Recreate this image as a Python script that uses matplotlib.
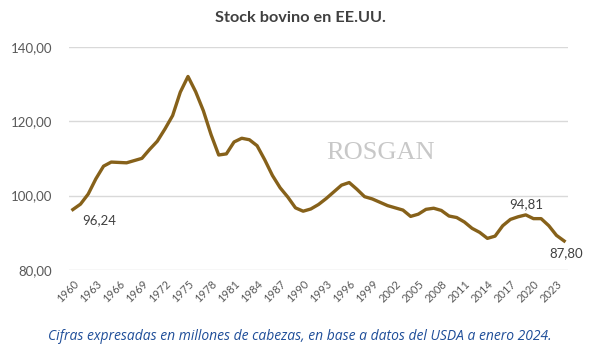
import matplotlib
matplotlib.use("Agg")
import matplotlib.pyplot as plt
import numpy as np

years = list(range(1960, 2025))
stock = [96.24, 97.7, 100.4, 104.5, 107.9, 109.0, 108.9, 108.8, 109.4, 110.0,
         112.4, 114.6, 117.9, 121.5, 127.8, 132.0, 127.9, 122.8, 116.4, 110.9,
         111.2, 114.4, 115.4, 115.0, 113.4, 109.6, 105.4, 102.1, 99.6, 96.7,
         95.8, 96.4, 97.6, 99.2, 101.0, 102.8, 103.5, 101.7, 99.7, 99.1,
         98.2, 97.3, 96.7, 96.1, 94.4, 95.0, 96.3, 96.6, 96.0, 94.5,
         94.1, 92.9, 91.2, 90.1, 88.5, 89.1, 91.9, 93.6, 94.3, 94.81,
         93.8, 93.8, 91.9, 89.3, 87.80]
xtick_years = list(range(1960, 2024, 3))
yticks = [80, 100, 120, 140]
labeled_years = [1960, 2019, 2024]

title = "Stock bovino en EE.UU."
caption = "Cifras expresadas en millones de cabezas, en base a datos del USDA a enero 2024."

fig = plt.figure(figsize=(6.0, 3.51), dpi=100)
ax = fig.add_axes([69/600, 1-270/351, (568-69)/600, (270-46.7)/351])

line_color = "#86611A"
ax.plot(years, stock, color=line_color, lw=2.4, solid_joinstyle="round", zorder=3)

ax.set_xlim(1959.5, 2024.5)
ax.set_ylim(80, 140)
ax.set_yticks(yticks)
ax.set_yticklabels([f"{v:.2f}".replace(".", ",") for v in yticks],
                   fontsize=9.5, color="#595959", family="Lato")
ax.set_xticks(xtick_years)
ax.set_xticklabels([str(y) for y in xtick_years], rotation=45, ha="right",
                   va="top", rotation_mode="anchor", fontsize=8,
                   color="#595959", family="Lato")
ax.tick_params(axis="both", length=0)
ax.tick_params(axis="y", pad=12)
ax.tick_params(axis="x", pad=6)
ax.grid(axis="y", color="#D9D9D9", lw=1)
ax.set_axisbelow(True)
for s in ax.spines.values():
    s.set_visible(False)

# data labels
offsets = {1960: (25, -4, "center", "top"),
           2019: (0, 5, "center", "bottom"),
           2024: (2, -6, "center", "top")}
for y in labeled_years:
    v = stock[years.index(y)]
    dx, dy, ha, va = offsets[y]
    ax.annotate(f"{v:.2f}".replace(".", ","), (y, v), xytext=(dx * 0.75, dy * 0.75),
                textcoords="offset points", ha=ha, va=va, fontsize=9.5,
                color="#404040", family="Lato")

# watermark
fig.text(381/600, 1-153/351, "ROSGAN", ha="center", va="center",
         fontsize=19, color="#C8C8C8", family="Liberation Serif", zorder=0)

fig.text(0.5, 1-18/351, title, ha="center", va="center", fontsize=11.7,
         fontweight="bold", color="#404040", family="Lato")
fig.text(0.5, 1-336/351, caption, ha="center", va="center", fontsize=10,
         style="italic", color="#1F4E99", family="Open Sans")

fig.savefig("out.png", dpi=100)
